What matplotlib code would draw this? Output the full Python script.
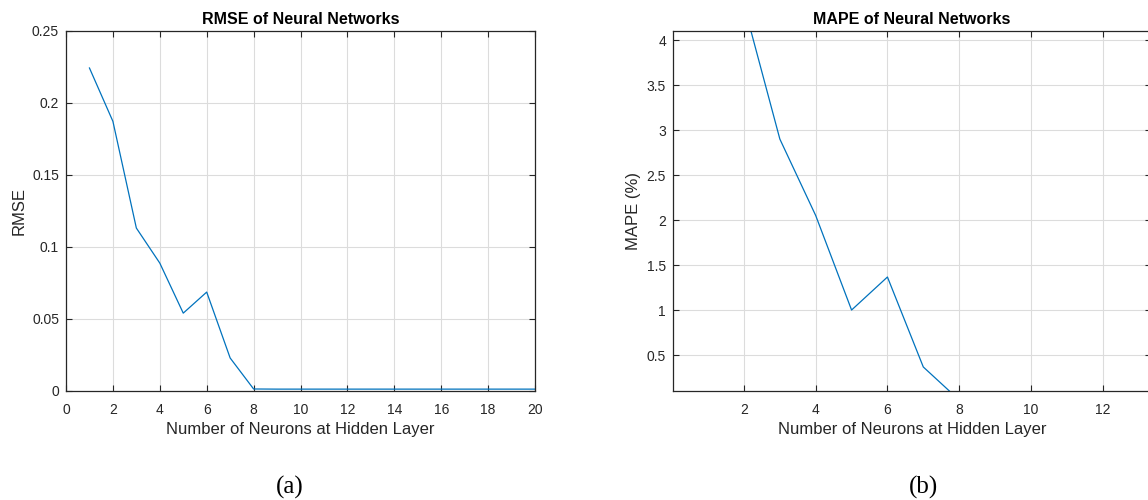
import numpy as np
import matplotlib
matplotlib.use("Agg")
import matplotlib.pyplot as plt

# Data
neurons = list(range(1, 21))
rmse = [0.224, 0.187, 0.113, 0.0887, 0.054, 0.0686, 0.0229, 0.0014,
        0.0013, 0.0013, 0.0013, 0.0013, 0.0013, 0.0013, 0.0013, 0.0013,
        0.0013, 0.0013, 0.0013, 0.0013]
mape = [5.2, 4.39, 2.9, 2.05, 1.0, 1.367, 0.367, 0.0,
        0.005, 0.005, 0.005, 0.005, 0.005, 0.005, 0.005, 0.005,
        0.005, 0.005, 0.005, 0.005]

rmse_xticks = list(range(0, 21, 2))
rmse_yticks = [0, 0.05, 0.1, 0.15, 0.2, 0.25]
rmse_yticklabels = ["0", "0.05", "0.1", "0.15", "0.2", "0.25"]
mape_xticks = [2, 4, 6, 8, 10, 12]
mape_yticks = [0.5, 1, 1.5, 2, 2.5, 3, 3.5, 4]
mape_yticklabels = ["0.5", "1", "1.5", "2", "2.5", "3", "3.5", "4"]

plt.rcParams['font.family'] = ['Liberation Sans', 'DejaVu Sans']

LINE = '#0072BD'
DARK = '#262626'

fig = plt.figure(figsize=(11.48, 5.0), dpi=100)
ax1 = fig.add_axes([66/1148, 1-391/500, 469/1148, 360.5/500])
ax2 = fig.add_axes([673/1148, 1-391/500, 478/1148, 360.5/500])


def style(ax):
    ax.grid(True, color='#dcdcdc', linewidth=0.8)
    ax.set_axisbelow(True)
    ax.tick_params(direction='in', top=True, right=True, length=4.5,
                   width=0.8, colors=DARK, labelsize=10, pad=5)
    ax.tick_params(axis='x', pad=9)
    for s in ax.spines.values():
        s.set_color(DARK)
        s.set_linewidth(0.9)


ax1.plot(neurons, rmse, color=LINE, linewidth=0.9)
ax1.set_xlim(0, 20)
ax1.set_ylim(0, 0.25)
ax1.set_xticks(rmse_xticks)
ax1.set_yticks(rmse_yticks)
ax1.set_yticklabels(rmse_yticklabels)
style(ax1)
ax1.set_title('RMSE of Neural Networks', fontsize=11.5, fontweight='bold', pad=4.5)
ax1.set_xlabel('Number of Neurons at Hidden Layer', fontsize=12, color=DARK, labelpad=3)
ax1.set_ylabel('RMSE', fontsize=12, color=DARK, labelpad=4)

ax2.plot(neurons, mape, color=LINE, linewidth=0.9)
ax2.set_xlim(0.02, 13.35)
ax2.set_ylim(0.1, 4.107)
ax2.set_xticks(mape_xticks)
ax2.set_yticks(mape_yticks)
ax2.set_yticklabels(mape_yticklabels)
style(ax2)
ax2.set_title('MAPE of Neural Networks', fontsize=11.5, fontweight='bold', pad=4.5)
ax2.set_xlabel('Number of Neurons at Hidden Layer', fontsize=12, color=DARK, labelpad=3)
ax2.set_ylabel('MAPE (%)', fontsize=12, color=DARK, labelpad=4)

fig.text(290/1148, 1-487/500, '(a)', ha='center', va='center', fontsize=18,
         family=['Liberation Serif', 'DejaVu Serif'])
fig.text(923/1148, 1-487/500, '(b)', ha='center', va='center', fontsize=18,
         family=['Liberation Serif', 'DejaVu Serif'])

fig.savefig('out.png', dpi=100)
